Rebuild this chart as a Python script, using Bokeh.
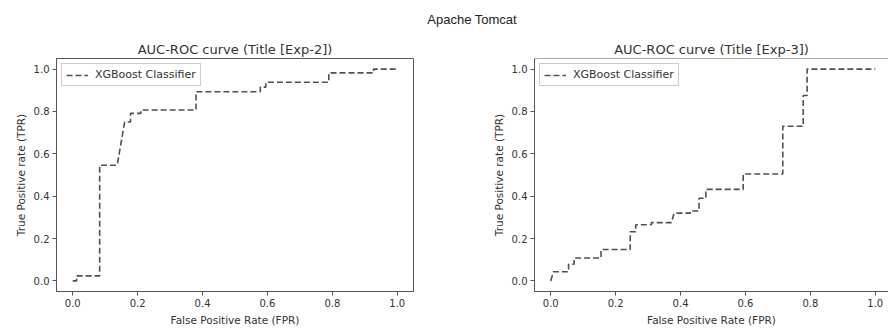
from bokeh.plotting import figure
from bokeh.models import Div, FixedTicker, PrintfTickFormatter, Span, Range1d
from bokeh.layouts import column, row
from bokeh.embed import file_html
from bokeh.resources import INLINE

# ---- data ----
suptitle = "Apache Tomcat"
titles = ["AUC-ROC curve (Title [Exp-2])", "AUC-ROC curve (Title [Exp-3])"]
series_name = "XGBoost Classifier"
x_label = "False Positive Rate (FPR)"
y_label = "True Positive rate (TPR)"
tick_values = [0.0, 0.2, 0.4, 0.6, 0.8, 1.0]

fpr_exp2 = [0.0, 0.012, 0.012, 0.083, 0.083, 0.137, 0.160, 0.178, 0.178, 0.210, 0.210,
            0.380, 0.380, 0.578, 0.578, 0.595, 0.595, 0.789, 0.789, 0.927, 0.927, 1.0]
tpr_exp2 = [0.0, 0.0, 0.024, 0.024, 0.546, 0.546, 0.750, 0.750, 0.791, 0.791, 0.807,
            0.807, 0.893, 0.893, 0.915, 0.915, 0.938, 0.938, 0.982, 0.982, 1.0, 1.0]

fpr_exp3 = [0.0, 0.008, 0.055, 0.055, 0.072, 0.072, 0.155, 0.155, 0.245, 0.245, 0.262,
            0.262, 0.310, 0.310, 0.372, 0.380, 0.430, 0.430, 0.457, 0.457, 0.478, 0.478,
            0.593, 0.593, 0.715, 0.715, 0.778, 0.778, 0.790, 0.790, 1.0]
tpr_exp3 = [0.0, 0.043, 0.043, 0.079, 0.079, 0.108, 0.108, 0.148, 0.148, 0.232, 0.232,
            0.265, 0.265, 0.275, 0.275, 0.320, 0.320, 0.330, 0.330, 0.390, 0.390, 0.432,
            0.432, 0.505, 0.505, 0.730, 0.730, 0.875, 0.875, 1.0, 1.0]

FONT = "DejaVu Sans"
TEXT = "#333333"
FRAME = "#555555"
LINE = "#505050"


def make(title, fpr, tpr, left, right, x_end, outline):
    p = figure(width=444, height=299, output_backend="svg", toolbar_location=None, tools="",
               x_range=Range1d(-0.05, x_end), y_range=Range1d(-0.05, 1.05),
               min_border_left=left, min_border_right=right,
               min_border_top=28, min_border_bottom=38, title=title)
    p.line(fpr, tpr, line_color=LINE, line_width=1.6, line_dash="6 3",
           legend_label=series_name)
    p.grid.visible = False
    p.background_fill_color = "white"
    p.border_fill_color = "white"
    if outline:
        p.outline_line_color = FRAME
        p.outline_line_width = 1
        p.outline_line_alpha = 1
    else:
        p.outline_line_color = None
        p.add_layout(Span(location=1.05, dimension="width", line_color=FRAME, line_width=1))

    p.title.text_font = FONT
    p.title.text_font_size = "13px"
    p.title.text_font_style = "normal"
    p.title.text_color = TEXT
    p.title.align = "center"
    p.title.standoff = 3

    for ax in (p.xaxis[0], p.yaxis[0]):
        ax.ticker = FixedTicker(ticks=tick_values)
        ax.formatter = PrintfTickFormatter(format="%.1f")
        ax.major_tick_out = 4
        ax.major_tick_in = 0
        ax.minor_tick_line_color = None
        ax.major_tick_line_color = FRAME
        ax.axis_line_color = FRAME
        ax.major_label_text_font = FONT
        ax.major_label_text_font_size = "10px"
        ax.major_label_text_color = TEXT
        ax.axis_label_text_font = FONT
        ax.axis_label_text_font_size = "10.5px"
        ax.axis_label_text_font_style = "normal"
        ax.axis_label_text_color = TEXT
        ax.major_label_standoff = 3
        ax.axis_label_standoff = 4
    p.xaxis.axis_label = x_label
    p.yaxis.axis_label = y_label

    lg = p.legend[0]
    lg.location = "top_left"
    lg.margin = 5
    lg.padding = 4
    lg.spacing = 0
    lg.label_height = 12
    lg.glyph_height = 12
    lg.glyph_width = 22
    lg.label_standoff = 7
    lg.label_text_font = FONT
    lg.label_text_font_size = "11px"
    lg.label_text_color = TEXT
    lg.border_line_color = "#cccccc"
    lg.border_line_alpha = 1
    lg.background_fill_alpha = 0.8
    return p


p1 = make(titles[0], fpr_exp2, tpr_exp2, 56, 31, 1.05, True)
x_end2 = -0.05 + 354 / (357 / 1.1)
p2 = make(titles[1], fpr_exp3, tpr_exp3, 90, 0, x_end2, False)

head = Div(text=('<div style="width:832px;margin-left:56px;padding-top:12px;'
                 'line-height:16px;text-align:center;font-family:\'Liberation Sans\',Arial;'
                 'font-size:13px;color:#222;">' + suptitle + '</div>'),
           width=888, height=30, margin=0)

layout = column(head, row(p1, p2, spacing=0), spacing=0)
open("out.html", "w").write(file_html(layout, INLINE))
